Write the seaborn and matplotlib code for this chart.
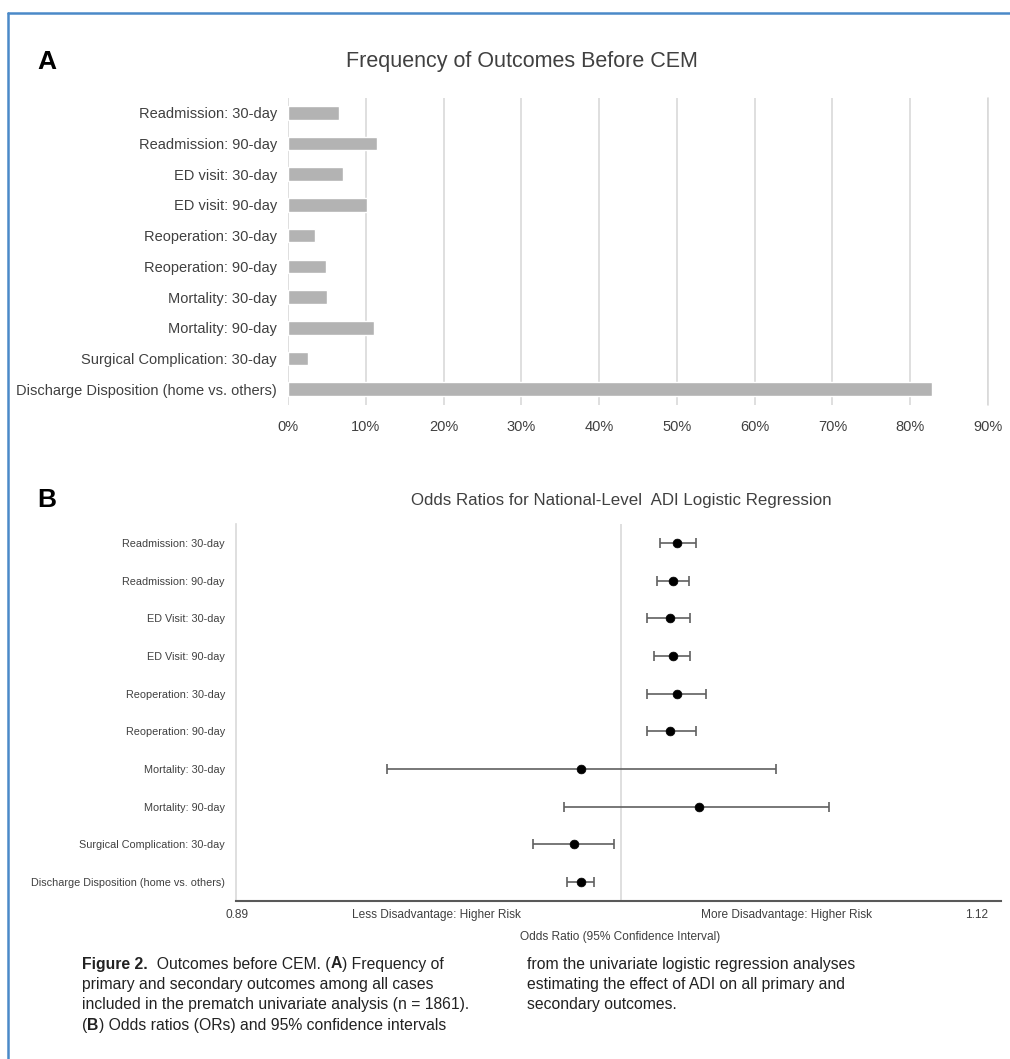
import matplotlib
matplotlib.use("Agg")
import matplotlib.pyplot as plt
from matplotlib.lines import Line2D
from matplotlib.ticker import PercentFormatter
import numpy as np
import pandas as pd
import seaborn as sns

sns.set_theme(style="white")
plt.rcParams["font.family"] = ["Liberation Sans", "DejaVu Sans"]

# panel A: frequency of outcomes before CEM
freq_labels = [
    "Readmission: 30-day", "Readmission: 90-day", "ED visit: 30-day",
    "ED visit: 90-day", "Reoperation: 30-day", "Reoperation: 90-day",
    "Mortality: 30-day", "Mortality: 90-day", "Surgical Complication: 30-day",
    "Discharge Disposition (home vs. others)",
]
freq_values = [0.066, 0.115, 0.071, 0.102, 0.035, 0.049, 0.050, 0.110, 0.026, 0.828]

# panel B: odds ratios with 95% CI
or_labels = [
    "Readmission: 30-day", "Readmission: 90-day", "ED Visit: 30-day",
    "ED Visit: 90-day", "Reoperation: 30-day", "Reoperation: 90-day",
    "Mortality: 30-day", "Mortality: 90-day", "Surgical Complication: 30-day",
    "Discharge Disposition (home vs. others)",
]
or_point = [1.0168, 1.0158, 1.0148, 1.0158, 1.0168, 1.0148, 0.9880, 1.0235, 0.9859, 0.9880]
or_low = [1.0118, 1.0110, 1.0078, 1.0099, 1.0078, 1.0078, 0.9298, 0.9829, 0.9737, 0.9839]
or_high = [1.0226, 1.0206, 1.0207, 1.0207, 1.0256, 1.0227, 1.0467, 1.0627, 0.9980, 0.9920]

W, H = 1010, 1059
fig = plt.figure(figsize=(W / 100, H / 100), dpi=100)


def box(left, top, right, bottom):
    # pixel box -> figure fraction rect
    return [left / W, 1 - bottom / H, (right - left) / W, (bottom - top) / H]


def fx(px):
    return px / W


def fy(py):
    return 1 - py / H


# ---------- panel A ----------
ax1 = fig.add_axes(box(288, 97.5, 988, 404.5))
df_a = pd.DataFrame({"label": freq_labels, "value": freq_values})
sns.barplot(data=df_a, x="value", y="label", orient="h", color="#b3b3b3",
            saturation=1, width=0.44, ax=ax1)
ax1.set_xlim(0, 0.9)
ax1.set_xticks(np.arange(0, 0.91, 0.1))
ax1.xaxis.set_major_formatter(PercentFormatter(1.0, decimals=0))
ax1.xaxis.grid(True, color="#d9d9d9", linewidth=1.2)
ax1.set_axisbelow(True)
for s in ax1.spines.values():
    s.set_visible(False)
ax1.axvline(0.9, color="#d9d9d9", linewidth=1.2, clip_on=False, zorder=0)
ax1.tick_params(axis="both", length=0, labelsize=10.5, colors="#404040")
ax1.tick_params(axis="x", pad=11)
ax1.tick_params(axis="y", pad=8)
ax1.set_xlabel("")
ax1.set_ylabel("")
fig.text(fx(522), fy(62), "Frequency of Outcomes Before CEM", ha="center",
         va="center", fontsize=15.5, color="#404040")
fig.text(fx(37), fy(62), "A", ha="left", va="center", fontsize=19,
         fontweight="bold", color="black")

# ---------- panel B ----------
ax2 = fig.add_axes(box(236, 524, 1001, 901))
err_col = "#606060"
ax2.hlines(or_labels, or_low, or_high, color=err_col, linewidth=1.2, zorder=2)
ax2.scatter(or_low, or_labels, marker="|", s=45, color=err_col, linewidth=1.2, zorder=2)
ax2.scatter(or_high, or_labels, marker="|", s=45, color=err_col, linewidth=1.2, zorder=2)
df_b = pd.DataFrame({"label": or_labels, "or": or_point})
sns.scatterplot(data=df_b, x="or", y="label", color="black", s=40,
                edgecolor="black", zorder=3, ax=ax2)
ax2.set_ylim(len(or_labels) - 0.5, -0.5)
ax2.set_xlim(0.8843, 1.1143)
ax2.axvline(1.0, color="#d9d9d9", linewidth=1.2, zorder=1)
for s in ["top", "right"]:
    ax2.spines[s].set_visible(False)
ax2.spines["left"].set_color("#d9d9d9")
ax2.spines["left"].set_linewidth(1.2)
ax2.spines["bottom"].set_color("#595959")
ax2.spines["bottom"].set_linewidth(1.5)
ax2.set_xticks([0.8843, 1.1143])
ax2.set_xticklabels(["", ""])
ax2.tick_params(axis="x", direction="inout", length=7, width=1.2, color="#595959")
ax2.tick_params(axis="y", length=0, labelsize=7.8, colors="#404040", pad=8)
ax2.set_xlabel("")
ax2.set_ylabel("")

small = dict(fontsize=8.6, color="#404040", va="center")
fig.text(fx(237), fy(915), "0.89", ha="center", **small)
fig.text(fx(977), fy(915), "1.12", ha="center", **small)
fig.text(fx(437), fy(915), "Less Disadvantage: Higher Risk", ha="center", **small)
fig.text(fx(787), fy(915), "More Disadvantage: Higher Risk", ha="center", **small)
fig.text(fx(620), fy(937), "Odds Ratio (95% Confidence Interval)", ha="center", **small)
fig.text(fx(621), fy(500), "Odds Ratios for National-Level  ADI Logistic Regression",
         ha="center", va="center", fontsize=12.2, color="#404040")
fig.text(fx(37), fy(500), "B", ha="left", va="center", fontsize=19,
         fontweight="bold", color="black")

# ---------- caption ----------
cap_left = [
    [("Figure 2.", "bold"), ("  Outcomes before CEM. (", "normal"), ("A", "bold"),
     (") Frequency of", "normal")],
    [("primary and secondary outcomes among all cases", "normal")],
    [("included in the prematch univariate analysis (n = 1861).", "normal")],
    [("(", "normal"), ("B", "bold"), (") Odds ratios (ORs) and 95% confidence intervals", "normal")],
]
cap_right = [
    "from the univariate logistic regression analyses",
    "estimating the effect of ADI on all primary and",
    "secondary outcomes.",
]
line_y = [964, 984.5, 1005, 1025.5]

renderer = fig.canvas.get_renderer()
for yy, parts in zip(line_y, cap_left):
    x = fx(82)
    for txt, weight in parts:
        t = fig.text(x, fy(yy), txt, ha="left", va="center", fontsize=11.3,
                     fontweight=weight, color="#222222")
        bb = t.get_window_extent(renderer=renderer)
        x += bb.width / W
for yy, txt in zip(line_y, cap_right):
    fig.text(fx(527), fy(yy), txt, ha="left", va="center", fontsize=11.3,
             color="#222222")

# blue frame on top and left
blue = "#4a89c8"
fig.add_artist(Line2D([fx(8), 1], [fy(12.5), fy(12.5)], color=blue, linewidth=1.8))
fig.add_artist(Line2D([fx(8), fx(8)], [0, fy(12.5)], color=blue, linewidth=1.8))

fig.savefig("out.png", dpi=100)
